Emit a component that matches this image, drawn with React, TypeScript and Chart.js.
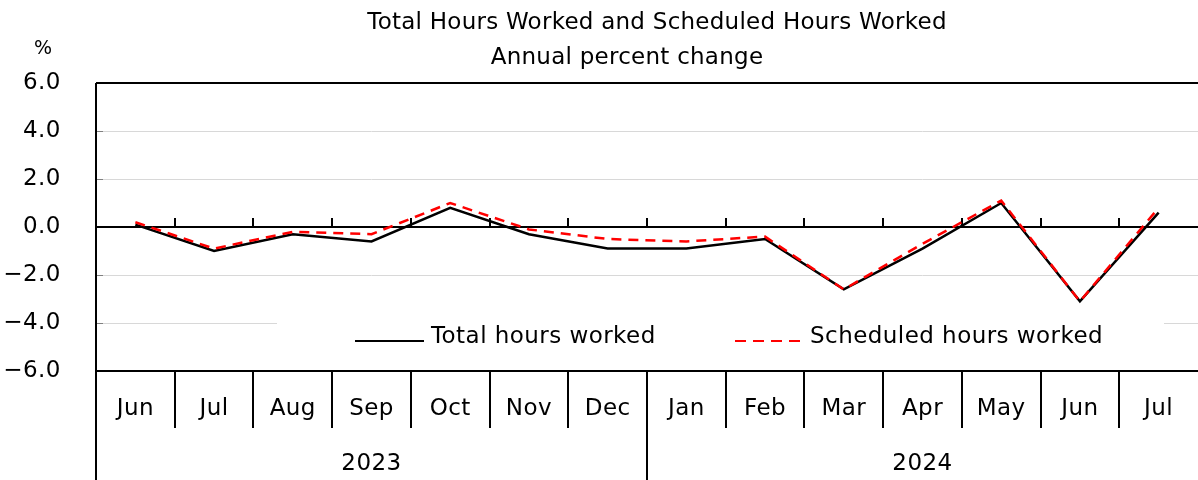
import React, { useEffect, useRef } from "react";
import { Chart, registerables } from "chart.js";

Chart.register(...registerables);

const months = ["Jun", "Jul", "Aug", "Sep", "Oct", "Nov", "Dec", "Jan", "Feb", "Mar", "Apr", "May", "Jun", "Jul"];
const years = ["2023", "2024"];
const yearSpans = [7, 7];
const totalHours = [0.1, -1.0, -0.3, -0.6, 0.8, -0.3, -0.9, -0.9, -0.5, -2.6, -0.9, 1.0, -3.1, 0.6];
const scheduledHours = [0.2, -0.9, -0.2, -0.3, 1.0, -0.1, -0.5, -0.6, -0.4, -2.6, -0.7, 1.1, -3.1, 0.8];
const titleLines = ["Total Hours Worked and Scheduled Hours Worked", "Annual percent change"];
const yUnit = "%";

const FONT = "'DejaVu Sans', Verdana, sans-serif";

const tablePlugin = {
  id: "tablePlugin",
  beforeDraw(chart: any) {
    (chart.ctx as any).letterSpacing = "0.5px";
  },
  beforeDatasetsDraw(chart: any) {
    const { ctx, chartArea } = chart;
    const y = chart.scales.y;
    const x = chart.scales.x;
    ctx.save();
    ctx.strokeStyle = "#808080";
    ctx.lineWidth = 1;
    [-4, -2, 2, 4].forEach((v) => {
      const py = Math.round(y.getPixelForValue(v)) + 0.5;
      ctx.beginPath();
      ctx.moveTo(chartArea.left, py);
      ctx.lineTo(chartArea.left + 7, py);
      ctx.stroke();
    });
    const y0 = y.getPixelForValue(0);
    ctx.strokeStyle = "#000";
    ctx.lineWidth = 2;
    ctx.beginPath();
    ctx.moveTo(chartArea.left, y0);
    ctx.lineTo(chartArea.right, y0);
    ctx.stroke();
    const n = months.length;
    for (let i = 1; i < n; i++) {
      const bx = Math.round((x.getPixelForValue(i - 1) + x.getPixelForValue(i)) / 2);
      ctx.beginPath();
      ctx.moveTo(bx, y0);
      ctx.lineTo(bx, y0 - 9);
      ctx.stroke();
    }
    ctx.restore();
  },
  afterDatasetsDraw(chart: any) {
    const { ctx, chartArea } = chart;
    const x = chart.scales.x;
    ctx.save();
    (ctx as any).letterSpacing = "0.45px";
    ctx.fillStyle = "#fff";
    ctx.fillRect(277, 314, 887, 40);
    const ly = 337;
    ctx.font = `23px ${FONT}`;
    ctx.textBaseline = "middle";
    ctx.textAlign = "left";
    ctx.fillStyle = "#000";
    ctx.strokeStyle = "#000";
    ctx.lineWidth = 2;
    ctx.beginPath();
    ctx.moveTo(355, ly + 4);
    ctx.lineTo(424, ly + 4);
    ctx.stroke();
    ctx.fillText(chart.data.datasets[0].label, 431, ly);
    ctx.strokeStyle = "#ff0000";
    ctx.setLineDash([11, 7]);
    ctx.beginPath();
    ctx.moveTo(735, ly + 4);
    ctx.lineTo(802, ly + 4);
    ctx.stroke();
    ctx.setLineDash([]);
    ctx.fillText(chart.data.datasets[1].label, 810, ly);

    ctx.strokeStyle = "#000";
    ctx.lineWidth = 2;
    ctx.beginPath();
    ctx.moveTo(chartArea.left, chartArea.top);
    ctx.lineTo(chartArea.right, chartArea.top);
    ctx.moveTo(chartArea.left, chartArea.bottom);
    ctx.lineTo(chartArea.right, chartArea.bottom);
    ctx.moveTo(chartArea.left, chartArea.top);
    ctx.lineTo(chartArea.left, chart.height);
    ctx.stroke();

    const n = months.length;
    const row1Bottom = chartArea.bottom + 57;
    ctx.font = `23px ${FONT}`;
    ctx.textAlign = "center";
    ctx.textBaseline = "middle";
    for (let i = 0; i < n; i++) {
      const cx = x.getPixelForValue(i);
      ctx.fillText(months[i], cx, chartArea.bottom + 38);
      if (i > 0) {
        const bx = Math.round((x.getPixelForValue(i - 1) + cx) / 2);
        ctx.beginPath();
        ctx.moveTo(bx, chartArea.bottom);
        ctx.lineTo(bx, row1Bottom);
        ctx.stroke();
      }
    }
    let start = 0;
    yearSpans.forEach((span, k) => {
      const end = start + span - 1;
      const half = (x.getPixelForValue(1) - x.getPixelForValue(0)) / 2;
      const left = x.getPixelForValue(start) - half;
      const right = x.getPixelForValue(end) + half;
      ctx.fillText(years[k], (left + right) / 2, chartArea.bottom + 93);
      if (k > 0) {
        ctx.beginPath();
        ctx.moveTo(Math.round(left), chartArea.bottom);
        ctx.lineTo(Math.round(left), chart.height);
        ctx.stroke();
      }
      start += span;
    });

    (ctx as any).letterSpacing = "0.25px";
    ctx.font = `23px ${FONT}`;
    ctx.fillText(titleLines[0], 657, 23);
    ctx.fillText(titleLines[1], 627, 58);
    (ctx as any).letterSpacing = "0px";
    ctx.font = `19px ${FONT}`;
    ctx.fillText(yUnit, 43, 49);
    ctx.restore();
  },
};

export default function App() {
  const ref = useRef<HTMLCanvasElement | null>(null);
  useEffect(() => {
    if (!ref.current) return;
    const chart = new Chart(ref.current, {
      type: "line",
      data: {
        labels: months,
        datasets: [
          {
            label: "Total hours worked",
            data: totalHours,
            borderColor: "#000",
            borderWidth: 2.5,
            pointRadius: 0,
            tension: 0,
            order: 2,
          },
          {
            label: "Scheduled hours worked",
            data: scheduledHours,
            borderColor: "#ff0000",
            borderWidth: 2.5,
            borderDash: [10, 7],
            pointRadius: 0,
            tension: 0,
            order: 1,
          },
        ],
      },
      options: {
        animation: false,
        responsive: false,
        layout: { padding: { left: 0, right: 0, top: 83, bottom: 109 } },
        plugins: { legend: { display: false }, title: { display: false }, tooltip: { enabled: false } },
        scales: {
          x: {
            display: false,
            offset: true,
          },
          y: {
            min: -6,
            max: 6,
            afterFit: (s: any) => {
              s.width = 96;
            },
            border: { display: false },
            grid: {
              drawTicks: false,
              color: (c: any) => (c.tick && (c.tick.value === 0 || Math.abs(c.tick.value) === 6) ? "rgba(0,0,0,0)" : "#d8d8d8"),
              lineWidth: 1,
            },
            ticks: {
              stepSize: 2,
              padding: 35,
              color: "#000",
              font: { family: FONT, size: 23 },
              callback: (v: any) => Number(v).toFixed(1).replace("-", "\u2212"),
            },
          },
        },
      },
      plugins: [tablePlugin],
    });
    return () => chart.destroy();
  }, []);
  return (
    <div style={{ position: "fixed", left: 0, top: 0, width: 1198, height: 480, background: "#fff" }}>
      <canvas ref={ref} width={1198} height={480} style={{ width: 1198, height: 480, display: "block" }} />
    </div>
  );
}
